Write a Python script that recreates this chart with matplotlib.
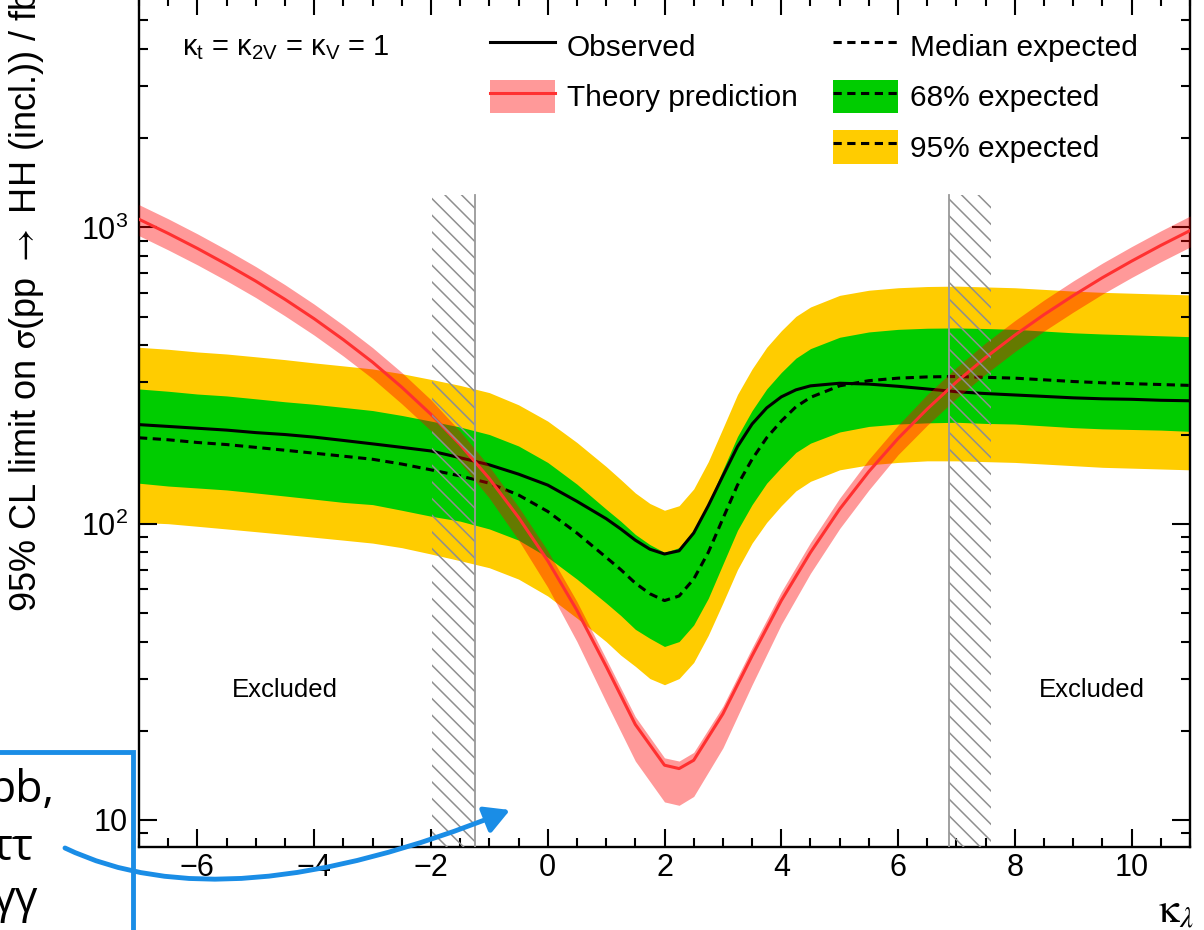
import numpy as np
import matplotlib
matplotlib.use("Agg")
import matplotlib.pyplot as plt
from matplotlib.patches import Patch, Rectangle, FancyArrowPatch
from matplotlib.lines import Line2D
from matplotlib.path import Path
from matplotlib.ticker import MultipleLocator, LogLocator, FixedLocator, FuncFormatter, NullFormatter

plt.rcParams['font.family'] = ['Liberation Sans', 'DejaVu Sans']
plt.rcParams['mathtext.fontset'] = 'custom'
plt.rcParams['mathtext.rm'] = 'Liberation Sans'
plt.rcParams['mathtext.it'] = 'Liberation Sans:italic'
plt.rcParams['mathtext.bf'] = 'Liberation Sans:bold'
plt.rcParams['hatch.linewidth'] = 1.1
plt.rcParams['hatch.color'] = '#8f8f8f'

# expected / observed limits vs kappa_lambda (fb)
k_exp = [-7, -6.5, -6, -5.5, -5, -4.5, -4, -3.5, -3, -2.5, -2, -1.5, -1, -0.5, 0, 0.5, 1,
         1.25, 1.5, 1.75, 2, 2.25, 2.5, 2.75, 3, 3.25, 3.5, 3.75, 4, 4.25, 4.5,
         5, 5.5, 6, 6.5, 7, 7.5, 8, 8.5, 9, 9.5, 10, 10.5, 11]
med = [195, 192, 188, 185, 181, 177, 173, 169, 165, 159, 152, 145, 137, 125, 110, 93, 77,
       70, 63, 58, 55, 57, 65, 80, 104, 135, 165, 195, 222, 248, 267,
       292, 304, 310, 313, 314, 312, 310, 306, 302, 299, 297, 295, 293]
obs = [216, 213, 210, 207, 203, 200, 196, 191, 186, 181, 176, 167, 158, 147, 135, 119, 104,
       96, 88, 82, 79, 81, 93, 115, 145, 182, 217, 246, 268, 283, 292,
       298, 296, 291, 285, 279, 275, 272, 269, 266, 264, 263, 261, 260]
hi2 = [394, 388, 380, 374, 366, 358, 349, 341, 333, 321, 307, 293, 277, 252, 222, 188, 156,
       141, 127, 117, 111, 115, 131, 162, 210, 273, 333, 394, 448, 501, 539,
       590, 614, 626, 632, 634, 630, 626, 618, 610, 604, 600, 596, 592]
hi1 = [285, 280, 274, 270, 264, 258, 253, 247, 241, 232, 222, 212, 200, 183, 161, 136, 112,
       102, 92, 85, 80, 83, 95, 117, 152, 197, 241, 285, 324, 362, 390,
       426, 444, 453, 457, 458, 456, 453, 447, 441, 437, 434, 431, 428]
lo1 = [137, 134, 132, 130, 127, 124, 121, 118, 116, 111, 106, 102, 96, 88, 77, 65, 54,
       49, 44, 41, 38.5, 40, 45.5, 56, 73, 95, 116, 137, 155, 174, 187,
       204, 213, 217, 219, 220, 218, 217, 214, 211, 209, 208, 207, 205]
lo2 = [101, 100, 98, 96, 94, 92, 90, 88, 86, 83, 79, 75, 71, 65, 57, 48, 40,
       36, 33, 30, 28.6, 30, 34, 42, 54, 70, 86, 101, 115, 129, 139,
       152, 158, 161, 163, 163, 162, 161, 159, 157, 155, 154, 153, 152]

# theory prediction
k_th = [-7, -6.5, -6, -5.5, -5, -4.5, -4, -3.5, -3, -2.5, -2, -1.5, -1, -0.5, 0, 0.5, 1, 1.5, 2,
        2.25, 2.5, 3, 3.5, 4, 4.5, 5, 5.5, 6, 6.5, 7, 7.5, 8, 8.5, 9, 9.5, 10, 10.5, 11]
th = [1066, 955, 850, 751, 659, 572, 492, 418, 351, 289, 234, 185, 142, 105, 75, 51, 33, 21, 15.3,
      14.9, 15.9, 22.8, 35.8, 55, 80, 112, 150, 194, 244, 301, 364, 433, 508, 589, 677, 770, 870, 976]
th_hi = [1194, 1070, 952, 841, 738, 641, 551, 468, 393, 324, 262, 205, 156, 114, 81, 54.6, 35.0, 22.3, 16.2,
         15.8, 16.9, 24.2, 38.1, 58.9, 86.4, 122, 165, 215, 273, 337, 408, 485, 569, 660, 758, 862, 974, 1093]
th_lo = [938, 840, 748, 661, 580, 503, 433, 368, 309, 254, 206, 161, 122, 88, 61, 40, 25, 15.8, 11.5,
         11.2, 12.0, 17.5, 28.6, 45.7, 68.0, 96.3, 130, 171, 215, 265, 320, 381, 447, 518, 596, 678, 766, 859]

# excluded regions (observed limits)
excl_edges = [-1.24, 6.88]
excl_hatch = [(-1.99, -1.24), (6.88, 7.60)]
hatch_top = 1290

W, H = 1204, 930
fig = plt.figure(figsize=(W / 100, H / 100), dpi=100)
ax = fig.add_axes([139 / W, 1 - 847 / H, (1190 - 139) / W, 850 / H])

ax.fill_between(k_exp, lo2, hi2, color='#ffcc00', lw=0, zorder=1)
ax.fill_between(k_exp, lo1, hi1, color='#00cc00', lw=0, zorder=2)
ax.plot(k_exp, med, color='black', lw=2.2, ls=(0, (2.7, 1.8)), zorder=3)
ax.plot(k_exp, obs, color='black', lw=2.2, zorder=4)
ax.fill_between(k_th, th_lo, th_hi, color='red', alpha=0.4, lw=0, zorder=5)
ax.plot(k_th, th, color='#ff3030', lw=2.2, zorder=6)

for (a, b) in excl_hatch:
    ax.fill_between([a, b], [1, 1], [hatch_top, hatch_top], facecolor='none',
                    edgecolor='#8f8f8f', hatch='\\\\', lw=0, zorder=7)
for e in excl_edges:
    ax.plot([e, e], [1, hatch_top], color='#999999', lw=1.3, zorder=7)

ax.set_xlim(-7, 11)
ax.set_yscale('log')
ax.set_ylim(8.1, 6000)

ax.xaxis.set_major_locator(MultipleLocator(2))
ax.xaxis.set_minor_locator(MultipleLocator(0.5))
ax.yaxis.set_major_locator(FixedLocator([10, 100, 1000]))
ax.yaxis.set_minor_locator(LogLocator(base=10, subs=np.arange(2, 10)))
ax.yaxis.set_minor_formatter(NullFormatter())
ylabs = {10: '10', 100: '$10^{2}$', 1000: '$10^{3}$'}
ax.yaxis.set_major_formatter(FuncFormatter(lambda v, p: ylabs.get(int(round(v)), '')))

ax.tick_params(which='both', direction='in', top=True, right=True, width=1.5)
ax.tick_params(which='major', length=13, labelsize=22)
ax.tick_params(which='minor', length=6.5)
ax.tick_params(axis='x', pad=4)
ax.tick_params(axis='y', pad=8)
for s in ax.spines.values():
    s.set_linewidth(1.7)

fig.text(27 / W, 1 + 10 / H, r'95% CL limit on $\mathrm{\sigma}$(pp $\rightarrow$ HH (incl.)) / fb',
         rotation=90, ha='center', va='top', fontsize=26, math_fontfamily='stix')
fig.text(1158 / W, 1 - 912 / H, r'$\mathrm{\kappa}_{\lambda}$', fontsize=30,
         ha='left', va='center', math_fontfamily='stix')

ax.text(0.041, 0.941, r'$\mathrm{\kappa}_{\mathrm{t}}$ = $\mathrm{\kappa}_{\mathrm{2V}}$ = $\mathrm{\kappa}_{\mathrm{V}}$ = 1',
        transform=ax.transAxes, fontsize=21, ha='left', va='center')
ax.text(-4.5, 27.5, 'Excluded', fontsize=18.5, ha='center', va='center')
ax.text(9.32, 27.5, 'Excluded', fontsize=18.5, ha='center', va='center')

# legend
dash = (0, (2.7, 1.8))
h_obs = Line2D([], [], color='black', lw=2.2)
h_th = (Patch(facecolor='#ff9999', lw=0), Line2D([], [], color='#ff3030', lw=2.2))
h_med = Line2D([], [], color='black', lw=2.2, ls=dash)
h_68 = (Patch(facecolor='#00cc00', lw=0), Line2D([], [], color='black', lw=2.2, ls=dash))
h_95 = (Patch(facecolor='#ffcc00', lw=0), Line2D([], [], color='black', lw=2.2, ls=dash))
legkw = dict(frameon=False, fontsize=21.5, handlelength=2.17, handleheight=1.35,
             labelspacing=0.57, handletextpad=0.4, borderpad=0, borderaxespad=0,
             loc='upper left', bbox_transform=fig.transFigure)
leg1 = ax.legend([h_obs, h_th], ['Observed', 'Theory prediction'],
                 bbox_to_anchor=(490 / W, 1 - 29 / H), **legkw)
ax.add_artist(leg1)
ax.legend([h_med, h_68, h_95], ['Median expected', '68% expected', '95% expected'],
          bbox_to_anchor=(833 / W, 1 - 29 / H), **legkw)

# blue overlay annotation
blue = '#1a8de6'
box = Rectangle((-20 / W, -20 / H), 153 / W, (930 - 752 + 20) / H, transform=fig.transFigure,
                facecolor='none', edgecolor=blue, lw=3.5, zorder=20)
fig.add_artist(box)
for txt, xr, yb in [('bb,', 54, 802), ('ττ', 34, 860), ('γγ', 38, 912)]:
    fig.text(xr / W, 1 - yb / H, txt, fontsize=32, ha='right', va='baseline',
             family=['Open Sans', 'DejaVu Sans'], zorder=21)
pts = [(65, 848), (225, 925), (510, 810)]
arrow_path = Path([(x / W, 1 - y / H) for x, y in pts], [Path.MOVETO, Path.CURVE3, Path.CURVE3])
arr = FancyArrowPatch(path=arrow_path, transform=fig.transFigure, color=blue, lw=3.5,
                      arrowstyle='-|>,head_length=1.0,head_width=0.55', mutation_scale=15, zorder=22)
fig.add_artist(arr)

fig.savefig('out.png', dpi=100)
